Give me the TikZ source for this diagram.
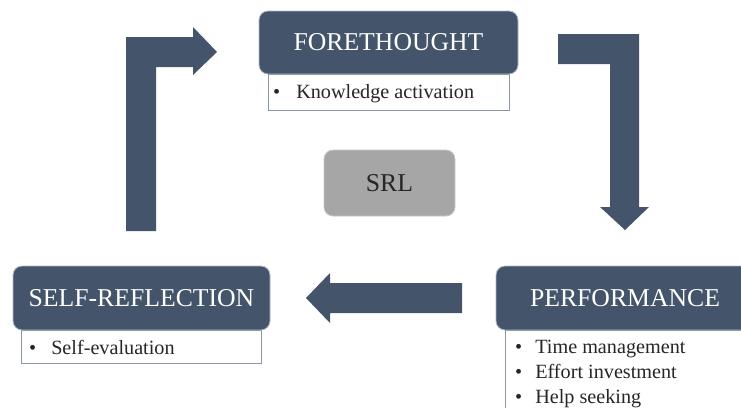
\documentclass[tikz,border=0pt]{standalone}
\usepackage{fontspec}
\setmainfont{Liberation Serif}
\begin{document}
\begin{tikzpicture}[x=1pt,y=-1pt,
  phase/.style={draw=phaseedge,line width=0.8pt,fill=phasefill,rounded corners=9pt,
    text=white,font=\fontsize{25.7}{30}\selectfont,inner sep=0pt},
  itembox/.style={draw=itemedge,line width=0.8pt,fill=white},
  items/.style={font=\fontsize{20.2}{25}\selectfont,text=black!85,align=left,inner sep=0pt,anchor=north west},
  blockarrow/.style={fill=phasefill,draw=none},
  centerbox/.style={draw=centeredge,line width=0.8pt,fill=centerfill,rounded corners=9pt,
    font=\fontsize{25.7}{30}\selectfont,text=black!85,inner sep=0pt}]
\definecolor{phasefill}{HTML}{44546A}
\definecolor{phaseedge}{HTML}{B4BCC8}
\definecolor{itemedge}{HTML}{8A97AA}
\definecolor{centerfill}{HTML}{A6A6A6}
\definecolor{centeredge}{HTML}{C8C8C8}
\useasboundingbox (0,0) rectangle (741,407);
\clip (0,0) rectangle (741,407);

% --- Forethought phase ---
\draw[itembox] (268,74) rectangle (509,110);
\node[phase,minimum width=259pt,minimum height=63pt] (fore) at (388.5,42.5) {FORETHOUGHT};
\node[items] (foreitems) at (273,84) {\textbullet\hspace{16pt}Knowledge activation};

% --- Performance phase (runs past the right and bottom edges) ---
\draw[itembox] (505,330) rectangle (770,430);
\node[phase,minimum width=258pt,minimum height=64pt] (perf) at (625,298) {PERFORMANCE};
\node[items] (perfitems) at (515,339.5) {\textbullet\hspace{13pt}Time management\\
  \textbullet\hspace{13pt}Effort investment\\
  \textbullet\hspace{13pt}Help seeking};

% --- Self-reflection phase ---
\draw[itembox] (21,330) rectangle (261,363);
\node[phase,minimum width=257pt,minimum height=64pt] (refl) at (141.5,298) {SELF-REFLECTION};
\node[items] (reflitems) at (29,340) {\textbullet\hspace{15pt}Self-evaluation};

% --- Centre label ---
\node[centerbox,minimum width=131pt,minimum height=66pt] (srl) at (389.5,183) {SRL};

% --- Block arrows of the cycle ---
% forethought -> performance
\fill[blockarrow] (558,34) -- (639,34) -- (639,207) -- (649,207) -- (625,230)
  -- (600,207) -- (610,207) -- (610,64) -- (558,64) -- cycle;
% performance -> self-reflection
\fill[blockarrow] (462,283) -- (330,283) -- (330,273) -- (306,298) -- (330,323)
  -- (330,313) -- (462,313) -- cycle;
% self-reflection -> forethought
\fill[blockarrow] (126,231) -- (126,37) -- (193,37) -- (193,27) -- (217,52)
  -- (193,75) -- (193,67) -- (156,67) -- (156,231) -- cycle;
\end{tikzpicture}
\end{document}
